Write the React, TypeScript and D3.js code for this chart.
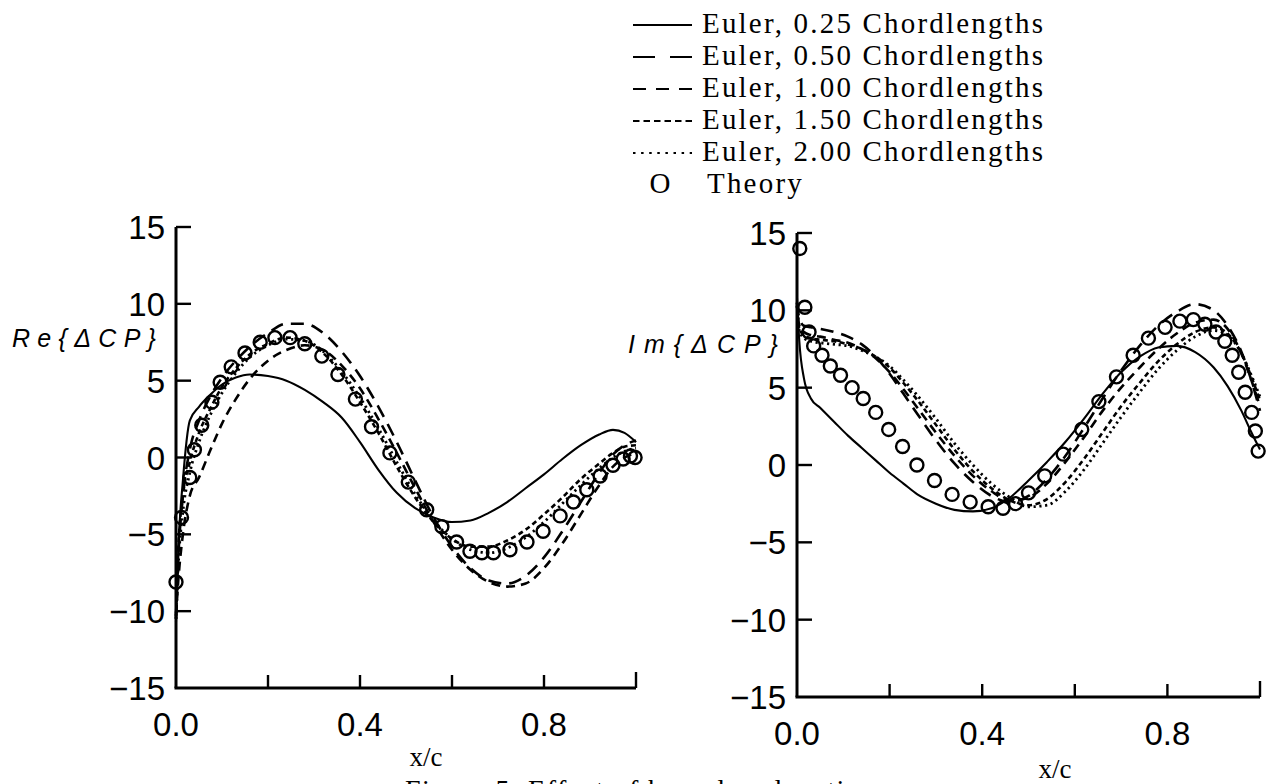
import React from "react";
import * as d3 from "d3";

// ---------------- data ----------------
// Re{ΔCP} – Euler solutions, common x grid
const reX = [0, 0.005, 0.015, 0.03, 0.05, 0.075, 0.1, 0.13, 0.16, 0.2, 0.24, 0.28, 0.32, 0.36, 0.4, 0.44, 0.48, 0.52, 0.56, 0.6, 0.64, 0.68, 0.72, 0.76, 0.8, 0.84, 0.88, 0.92, 0.95, 0.975, 1.0];
const reE025 = [-10.7, -6.0, -1.5, 2.4, 3.3, 4.1, 4.75, 5.2, 5.4, 5.3, 5.0, 4.4, 3.6, 2.6, 1.0, -0.8, -2.3, -3.3, -3.9, -4.2, -4.1, -3.6, -2.9, -2.0, -1.1, -0.1, 0.8, 1.5, 1.8, 1.6, 1.0];
const reE050 = [-10.3, -6.5, -2.5, 0.5, 2.4, 4.0, 5.2, 6.3, 7.2, 8.1, 8.7, 8.7, 8.1, 6.9, 5.3, 3.3, 1.0, -1.5, -3.9, -5.8, -7.2, -8.0, -8.2, -7.7, -6.5, -4.8, -2.9, -1.0, 0.2, 0.8, 1.1];
const reE100 = [-10.3, -8.0, -5.0, -2.5, -1.3, 0.5, 2.2, 3.8, 5.1, 6.3, 7.0, 7.3, 7.0, 6.0, 4.5, 2.5, 0.3, -2.0, -4.2, -6.0, -7.3, -8.1, -8.4, -8.2, -7.2, -5.6, -3.7, -1.8, -0.6, 0.0, 0.3];
const reE150 = [-10.5, -6.0, -2.5, -0.3, 1.6, 3.2, 4.6, 5.8, 6.7, 7.4, 7.8, 7.6, 6.8, 5.4, 3.6, 1.6, -0.6, -2.6, -4.2, -5.3, -5.8, -5.8, -5.4, -4.7, -3.7, -2.6, -1.4, -0.4, 0.3, 0.7, 0.8];
const reE200 = [-10.5, -7.0, -3.5, -1.0, 1.0, 2.8, 4.2, 5.5, 6.5, 7.3, 7.7, 7.6, 6.9, 5.6, 3.9, 1.9, -0.3, -2.4, -4.1, -5.3, -6.0, -6.2, -5.9, -5.2, -4.2, -3.0, -1.8, -0.7, 0.0, 0.4, 0.6];
// Re{ΔCP} – theory
const reThX = [0.0, 0.012, 0.03, 0.04, 0.056, 0.078, 0.096, 0.12, 0.15, 0.183, 0.215, 0.248, 0.28, 0.317, 0.352, 0.39, 0.425, 0.465, 0.505, 0.545, 0.578, 0.61, 0.639, 0.665, 0.69, 0.726, 0.763, 0.798, 0.835, 0.864, 0.893, 0.922, 0.95, 0.972, 0.988, 0.998];
const reThV = [-8.1, -3.9, -1.3, 0.5, 2.1, 3.6, 4.9, 5.9, 6.8, 7.5, 7.8, 7.8, 7.4, 6.6, 5.4, 3.8, 2.0, 0.3, -1.6, -3.4, -4.5, -5.5, -6.1, -6.2, -6.2, -6.0, -5.5, -4.8, -3.8, -2.9, -2.1, -1.2, -0.5, -0.1, 0.1, 0.0];

// Im{ΔCP} – Euler solutions
const imX = [0, 0.005, 0.015, 0.03, 0.05, 0.08, 0.11, 0.14, 0.17, 0.2, 0.23, 0.26, 0.3, 0.34, 0.38, 0.42, 0.46, 0.5, 0.54, 0.58, 0.62, 0.66, 0.7, 0.74, 0.78, 0.82, 0.86, 0.9, 0.93, 0.96, 0.98, 1.0];
const imE025 = [10.8, 8.0, 5.6, 4.3, 3.7, 2.8, 1.9, 1.1, 0.3, -0.5, -1.2, -1.9, -2.5, -2.9, -3.0, -2.8, -2.1, -1.0, 0.2, 1.5, 3.0, 4.6, 6.0, 7.0, 7.6, 7.7, 7.3, 6.3, 5.1, 3.5, 2.2, 1.0];
const imE050 = [10.5, 9.5, 9.0, 8.9, 8.8, 8.6, 8.3, 7.8, 7.0, 5.9, 4.6, 3.3, 1.6, 0.1, -1.1, -2.0, -2.4, -2.0, -0.9, 0.6, 2.4, 4.3, 6.1, 7.7, 9.0, 9.9, 10.4, 10.0, 9.0, 7.3, 5.6, 3.5];
const imE100 = [10.5, 9.0, 8.6, 8.4, 8.3, 8.1, 7.9, 7.5, 6.9, 6.0, 4.9, 3.7, 2.1, 0.6, -0.7, -1.7, -2.3, -2.1, -1.2, 0.2, 1.8, 3.5, 5.0, 6.3, 7.5, 8.5, 9.2, 9.4, 8.8, 7.2, 5.6, 3.8];
const imE150 = [10.3, 8.8, 8.4, 8.2, 8.1, 8.0, 7.8, 7.5, 7.0, 6.3, 5.3, 4.2, 2.6, 1.0, -0.4, -1.5, -2.3, -2.6, -2.2, -1.1, 0.4, 2.1, 3.8, 5.3, 6.7, 7.8, 8.6, 8.9, 8.5, 7.2, 5.8, 4.2];
const imE200 = [10.3, 8.7, 8.2, 8.0, 7.9, 7.8, 7.7, 7.4, 7.0, 6.4, 5.5, 4.5, 3.0, 1.4, 0.0, -1.2, -2.1, -2.7, -2.6, -1.7, -0.3, 1.4, 3.1, 4.7, 6.2, 7.4, 8.3, 8.7, 8.4, 7.2, 5.9, 4.4];
// Im{ΔCP} – theory
const imThX = [0.006, 0.017, 0.026, 0.036, 0.054, 0.072, 0.094, 0.119, 0.143, 0.17, 0.198, 0.228, 0.259, 0.297, 0.335, 0.374, 0.413, 0.445, 0.472, 0.5, 0.535, 0.575, 0.615, 0.652, 0.69, 0.726, 0.759, 0.795, 0.827, 0.856, 0.881, 0.905, 0.924, 0.94, 0.954, 0.968, 0.982, 0.99, 0.996];
const imThV = [14.0, 10.2, 8.6, 7.7, 7.1, 6.4, 5.8, 5.0, 4.3, 3.4, 2.3, 1.2, 0.0, -1.0, -1.9, -2.4, -2.7, -2.8, -2.5, -1.8, -0.7, 0.7, 2.3, 4.1, 5.7, 7.1, 8.2, 8.9, 9.3, 9.4, 9.1, 8.6, 8.0, 7.1, 6.0, 4.7, 3.4, 2.2, 0.9];

// axes / ticks / labels
const yTicks = [-15, -10, -5, 0, 5, 10, 15];
const xTicks = [0, 0.2, 0.4, 0.6, 0.8, 1.0];
const xLabelTicks = [0, 0.4, 0.8];
const legendLabels = [
  "Euler, 0.25 Chordlengths",
  "Euler, 0.50 Chordlengths",
  "Euler, 1.00 Chordlengths",
  "Euler, 1.50 Chordlengths",
  "Euler, 2.00 Chordlengths",
];
const theoryLabel = "Theory";
const reTitle = "Re{\u0394CP}";
const imTitle = "Im{\u0394CP}";
const xTitle = "x/c";
const caption = "Figure 5.  Effect of boundary location";

// ---------------- styles ----------------
const plotDash = [null, "13 8", "9 6", "5 3.5", "2.2 3.6"];
const legendDash = [null, "22 15", "13 10", "6.5 4", "2.5 5.6"];
const lineWidth = [2.1, 2.6, 2.6, 2.6, 2.8];

const reSeries = [reE025, reE050, reE100, reE150, reE200];
const imSeries = [imE025, imE050, imE100, imE150, imE200];

const sans = "'Liberation Sans', Arial, Helvetica, sans-serif";
const serif = "'Liberation Serif', 'Times New Roman', Times, serif";

const fmt = (v: number) => (v < 0 ? "\u2212" + Math.abs(v) : String(v));

function Panel(props: {
  x0: number; x1: number; yTop: number; yBot: number;
  xs: number[]; series: number[][]; thX: number[]; thV: number[];
  title: string; titleX: number; titleY: number; titleSpacing: number;
  xTitleX: number; xTitleY: number;
}) {
  const { x0, x1, yTop, yBot, xs, series, thX, thV } = props;
  const x = d3.scaleLinear().domain([0, 1]).range([x0, x1]);
  const y = d3.scaleLinear().domain([-15, 15]).range([yBot, yTop]);
  const line = d3
    .line<[number, number]>()
    .x((d) => x(d[0]))
    .y((d) => y(d[1]))
    .curve(d3.curveMonotoneX);
  return (
    <g>
      {series.map((vals, i) => (
        <path
          key={i}
          d={line(xs.map((xv, j) => [xv, vals[j]] as [number, number])) || ""}
          fill="none"
          stroke="#000"
          strokeWidth={lineWidth[i]}
          strokeDasharray={plotDash[i] || undefined}
        />
      ))}
      {thX.map((xv, i) => (
        <circle key={i} cx={x(xv)} cy={y(thV[i])} r={6.5} fill="none" stroke="#000" strokeWidth={2.4} />
      ))}
      {/* axes */}
      <line x1={x(0)} x2={x(0)} y1={y(15)} y2={y(-15)} stroke="#000" strokeWidth={3} />
      <line x1={x(0) - 1.5} x2={x(1)} y1={y(-15)} y2={y(-15)} stroke="#000" strokeWidth={3} />
      {yTicks.filter((t) => t !== -15).map((t) => (
        <line key={t} x1={x(0)} x2={x(0) + 15} y1={y(t)} y2={y(t)} stroke="#000" strokeWidth={2.4} />
      ))}
      {xTicks.filter((t) => t !== 0).map((t) => (
        <line key={t} x1={x(t)} x2={x(t)} y1={y(-15)} y2={y(-15) - (t === 1 ? 16 : 13)} stroke="#000" strokeWidth={2.4} />
      ))}
      {yTicks.map((t) => (
        <text key={t} x={x(0) - 11} y={y(t) + 12} textAnchor="end" fontFamily={sans} fontSize={33}>
          {fmt(t)}
        </text>
      ))}
      {xLabelTicks.map((t) => (
        <text key={t} x={x(t)} y={y(-15) + 48} textAnchor="middle" fontFamily={sans} fontSize={33}>
          {t.toFixed(1)}
        </text>
      ))}
      <text x={props.titleX} y={props.titleY} fontFamily={sans} fontStyle="italic" fontSize={25} letterSpacing={props.titleSpacing}>
        {props.title}
      </text>
      <text x={props.xTitleX} y={props.xTitleY} textAnchor="middle" fontFamily={serif} fontSize={27}>
        {xTitle}
      </text>
    </g>
  );
}

export default function App() {
  const legendBase = [33, 65, 97, 129, 161];
  return (
    <svg
      width={1269}
      height={784}
      viewBox="0 0 1269 784"
      style={{ position: "absolute", left: 0, top: 0, background: "#fff" }}
    >
      <rect x={0} y={0} width={1269} height={784} fill="#fff" />
      {/* legend */}
      {legendLabels.map((lab, i) => (
        <g key={i}>
          <line
            x1={633}
            x2={692}
            y1={legendBase[i] - 8}
            y2={legendBase[i] - 8}
            stroke="#000"
            strokeWidth={2}
            strokeDasharray={legendDash[i] || undefined}
          />
          <text x={702} y={legendBase[i]} fontFamily={serif} fontSize={29} letterSpacing={2.2}>
            {lab}
          </text>
        </g>
      ))}
      <text x={660} y={193} textAnchor="middle" fontFamily={serif} fontSize={29}>O</text>
      <text x={707} y={193} fontFamily={serif} fontSize={29} letterSpacing={2.2}>{theoryLabel}</text>

      <Panel
        x0={176} x1={636} yTop={227} yBot={688}
        xs={reX} series={reSeries} thX={reThX} thV={reThV}
        title={reTitle} titleX={12} titleY={347} titleSpacing={7.3}
        xTitleX={426} xTitleY={766}
      />
      <Panel
        x0={797} x1={1260} yTop={233} yBot={697}
        xs={imX} series={imSeries} thX={imThX} thV={imThV}
        title={imTitle} titleX={628} titleY={353} titleSpacing={9}
        xTitleX={1055} xTitleY={778}
      />
      <text x={405} y={799} fontFamily={serif} fontSize={28} letterSpacing={1.5}>
        {caption}
      </text>
    </svg>
  );
}
